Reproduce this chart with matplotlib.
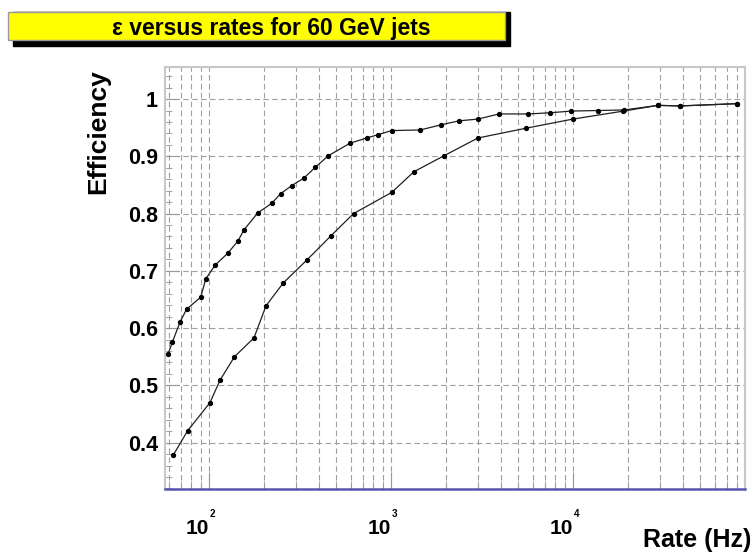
import matplotlib
matplotlib.use('Agg')
import matplotlib.pyplot as plt
import matplotlib.patches as patches
import matplotlib.transforms as transforms
from matplotlib.ticker import LogLocator, MultipleLocator, NullFormatter
import numpy as np

# upper curve
rate_a = [59.6, 62.8, 69.4, 75.3, 90, 96, 108, 127, 144, 156, 185, 221, 248,
          285, 332, 384, 452, 596, 735, 851, 1009, 1443, 1882, 2364, 2995,
          3920, 5680, 7430, 9750, 13650, 19060, 29300, 38700, 79600]
eff_a = [0.555, 0.575, 0.611, 0.633, 0.654, 0.686, 0.710, 0.731, 0.752,
         0.772, 0.801, 0.818, 0.835, 0.849, 0.862, 0.881, 0.901, 0.923,
         0.932, 0.938, 0.945, 0.946, 0.955, 0.962, 0.965, 0.974, 0.974,
         0.976, 0.979, 0.980, 0.981, 0.989, 0.988, 0.992]

# lower curve
rate_b = [63.8, 76.4, 101.3, 114.9, 138, 176.6, 205.7, 255.9, 345, 466.9,
          622, 1009, 1334, 1954, 2999, 5496, 9955, 18920, 29300, 38700, 79600]
eff_b = [0.379, 0.421, 0.470, 0.509, 0.550, 0.583, 0.639, 0.679, 0.719,
         0.761, 0.800, 0.837, 0.873, 0.901, 0.932, 0.949, 0.965, 0.979,
         0.989, 0.988, 0.992]

decades = [2, 3, 4]
title = '\u03b5 versus rates for 60 GeV jets'

FONT = 'Liberation Sans'
W, H = 753, 554

fig = plt.figure(figsize=(W / 100, H / 100), dpi=100)
ax = fig.add_axes([165 / W, 1 - 489 / H, 580 / W, 422 / H])

for r, e in ((rate_a, eff_a), (rate_b, eff_b)):
    ax.plot(r, e, color='#202020', lw=0.9, marker='o', ms=2.8,
            mec='black', mfc='black', zorder=3)

ax.set_xscale('log')
ax.set_xlim(57.3, 88000)
ax.set_ylim(0.319, 1.056)

ax.xaxis.set_major_locator(LogLocator(base=10))
ax.xaxis.set_minor_locator(LogLocator(base=10, subs=np.arange(2, 10)))
ax.xaxis.set_major_formatter(NullFormatter())
ax.xaxis.set_minor_formatter(NullFormatter())
ax.yaxis.set_major_locator(MultipleLocator(0.1))
ax.yaxis.set_minor_locator(MultipleLocator(0.02))

ax.grid(True, which='major', axis='both', color='#a0a0a0', ls=(0, (5, 3)), lw=0.8)
ax.grid(True, which='minor', axis='x', color='#a0a0a0', ls=(0, (5, 3)), lw=0.8)
ax.set_axisbelow(True)

ax.tick_params(axis='both', which='both', direction='in', color='#999999')
ax.tick_params(axis='y', which='major', length=10, labelsize=15.5, pad=5)
ax.tick_params(axis='y', which='minor', length=5)
ax.tick_params(axis='x', which='major', length=12)
ax.tick_params(axis='x', which='minor', length=6)
for lab in ax.get_yticklabels():
    lab.set_fontfamily(FONT)
    lab.set_fontweight('bold')
ax.yaxis.set_major_formatter(matplotlib.ticker.FuncFormatter(
    lambda v, p: '1' if abs(v - 1) < 1e-6 else '%.1f' % v))

for s in ('top', 'right', 'left'):
    ax.spines[s].set_color('#c8c8c8')
    ax.spines[s].set_linewidth(1.5)
ax.spines['bottom'].set_color('#5555b0')
ax.spines['bottom'].set_linewidth(1.8)

# x tick labels, ROOT style with small exponent
trans = transforms.blended_transform_factory(ax.transData, ax.transAxes)
for d in decades:
    ax.text(10 ** d * 1.0, -0.093, '10', transform=trans, ha='right', va='center',
            fontsize=15, fontweight='bold', family=FONT)
    ax.text(10 ** d * 1.01, -0.06, str(d), transform=trans, ha='left', va='center',
            fontsize=7, fontweight='bold', family=FONT)

fig.text(751 / W, 1 - 540 / H, 'Rate (Hz)', ha='right', va='center',
         fontsize=18, fontweight='bold', family=FONT)
fig.text(98 / W, 1 - 69 / H, 'Efficiency', ha='center', va='top', rotation=90,
         fontsize=19, fontweight='bold', family=FONT)

# title box with shadow
fig.patches.append(patches.Rectangle((13 / W, 1 - 46 / H), 497 / W, 34 / H,
                                     transform=fig.transFigure, color='black', zorder=1))
fig.patches.append(patches.Rectangle((8 / W, 1 - 40 / H), 497 / W, 28 / H,
                                     transform=fig.transFigure, facecolor='#ffff00',
                                     edgecolor='#999999', lw=1, zorder=2))
fig.text(271 / W, 1 - 28 / H, title, ha='center', va='center', fontsize=16.5,
         fontweight='bold', family=FONT, zorder=3)

fig.savefig('out.png', dpi=100)
